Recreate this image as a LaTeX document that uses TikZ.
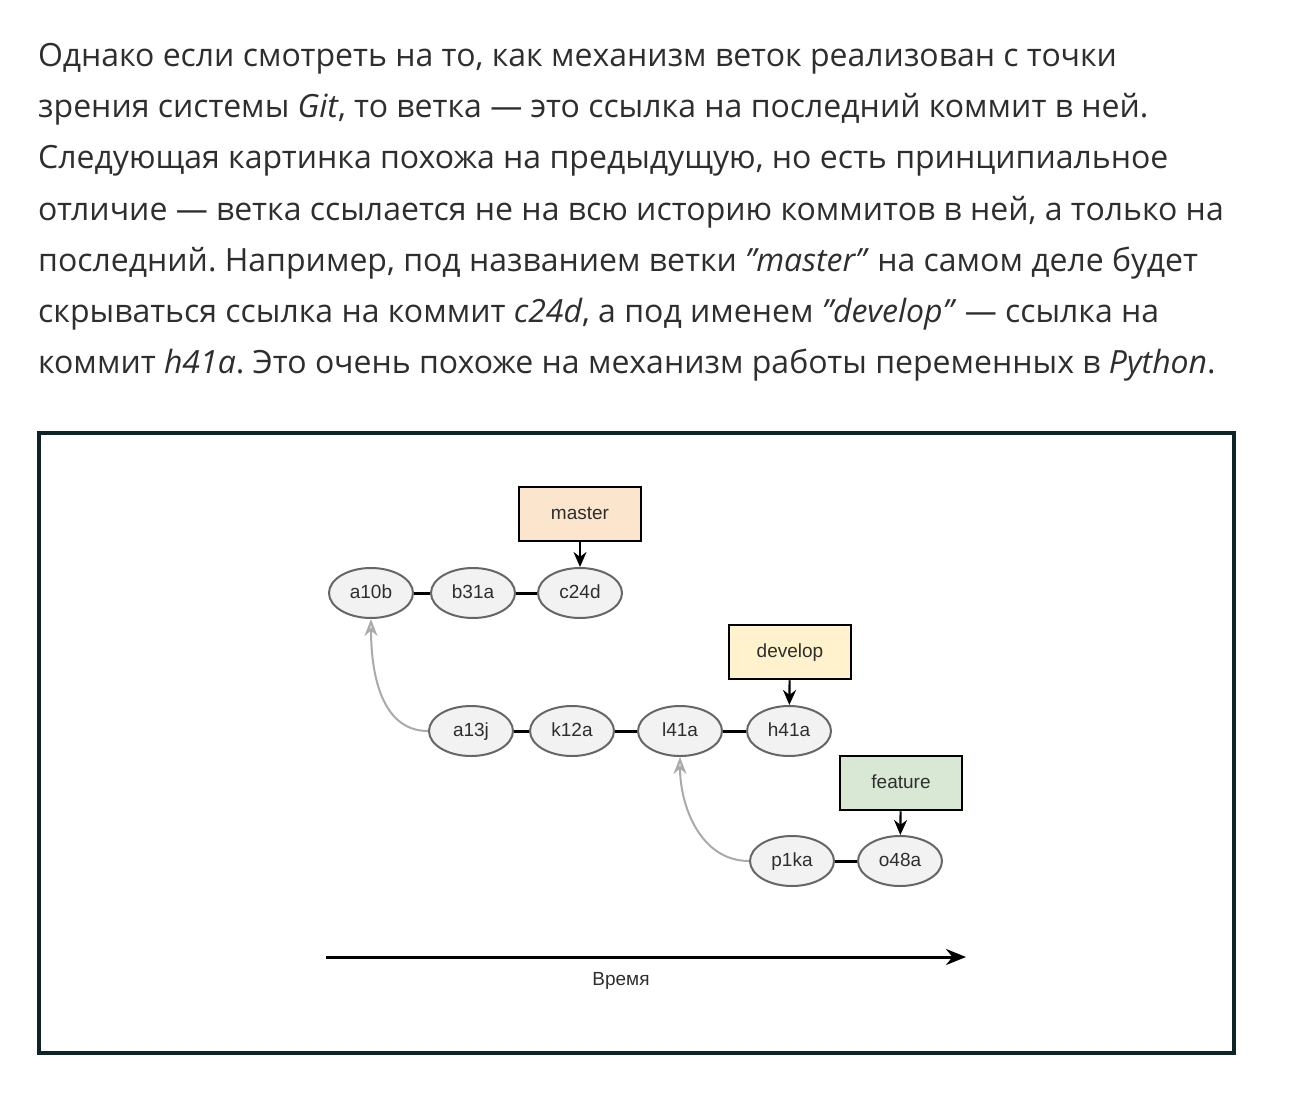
\documentclass[tikz,border=0pt]{standalone}
\usepackage{fontspec}
\setmainfont{Open Sans}
\newfontfamily\diafont{Liberation Sans}
\usepackage{tikz}
\usetikzlibrary{arrows.meta}
\usetikzlibrary{shapes.geometric}
\definecolor{textgray}{HTML}{2E2E2E}
\definecolor{framecol}{HTML}{0F2426}
\definecolor{commitline}{HTML}{666666}
\definecolor{commitfill}{HTML}{F2F2F2}
\definecolor{parentcol}{HTML}{AAAAAA}
\definecolor{masterfill}{HTML}{FCE5CD}
\definecolor{developfill}{HTML}{FFF2CC}
\definecolor{featurefill}{HTML}{D9E8D5}
\newcommand{\q}{\char34\relax}
\frenchspacing

\begin{document}
\begin{tikzpicture}[x=1pt,y=-1pt,
	line/.style={anchor=base west,inner sep=0pt,text=textgray,font=\fontsize{32}{36}\selectfont},
	commit/.style={ellipse,draw=commitline,fill=commitfill,line width=2pt,minimum width=84pt,minimum height=50pt,inner sep=0pt,text height=14pt,text depth=4pt,text=textgray,font=\diafont\fontsize{19}{21}\selectfont},
	branch/.style={rectangle,draw=black,line width=2.5pt,minimum width=122pt,minimum height=54pt,text height=14pt,text depth=4pt,text=textgray,font=\diafont\fontsize{19}{21}\selectfont},
	link/.style={line width=3pt},
	ptr/.style={-{Stealth[length=15pt,width=13pt]},line width=2.2pt},
	parent/.style={-{Stealth[length=17pt,width=13pt,fill=parentcol!40]},draw=parentcol,line width=2pt}]
	\useasboundingbox (0,0) rectangle (1292,1102);
	% paragraph
	\node[line] (l1) at (38,67) {Однако если смотреть на то, как механизм веток реализован с точки};
	\node[line] (l2) at (38,118) {зрения системы \textit{Git}, то ветка — это ссылка на последний коммит в ней.};
	\node[line] (l3) at (38,169) {Следующая картинка похожа на предыдущую, но есть принципиальное};
	\node[line] (l4) at (38,220) {отличие — ветка ссылается не на всю историю коммитов в ней, а только на};
	\node[line] (l5) at (38,271) {последний. Например, под названием ветки \textit{\q master\q} на самом деле будет};
	\node[line] (l6) at (38,322) {скрываться ссылка на коммит \textit{c24d}, а под именем \textit{\q develop\q} — ссылка на};
	\node[line] (l7) at (38,373) {коммит \textit{h41a}. Это очень похоже на механизм работы переменных в \textit{Python}.};
	% frame
	\draw[framecol,line width=4pt] (39,433) rectangle (1234,1053);
	% commits
	\node[commit] (a10b) at (371,593) {a10b};
	\node[commit] (b31a) at (473,593) {b31a};
	\node[commit] (c24d) at (580,593) {c24d};
	\node[commit] (a13j) at (471,731) {a13j};
	\node[commit] (k12a) at (572,731) {k12a};
	\node[commit] (l41a) at (680,731) {l41a};
	\node[commit] (h41a) at (789,731) {h41a};
	\node[commit] (p1ka) at (792,861) {p1ka};
	\node[commit] (o48a) at (900,861) {o48a};
	% branches
	\node[branch,fill=masterfill] (master) at (580,514) {master};
	\node[branch,fill=developfill] (develop) at (790,652) {develop};
	\node[branch,fill=featurefill] (feature) at (901,783) {feature};
	\draw[link] (a10b) -- (b31a);
	\draw[link] (b31a) -- (c24d);
	\draw[link] (a13j) -- (k12a);
	\draw[link] (k12a) -- (l41a);
	\draw[link] (l41a) -- (h41a);
	\draw[link] (p1ka) -- (o48a);
	\draw[ptr] (master) -- (c24d);
	\draw[ptr] (develop) -- (h41a);
	\draw[ptr] (feature) -- (o48a);
	\draw[parent] (a13j.west) to[out=180,in=-90] (a10b.south);
	\draw[parent] (p1ka.west) to[out=180,in=-90] (l41a.south);
	% time axis
	\coordinate (t0) at (326,957);
	\coordinate (t1) at (966,957);
	\draw[-{Stealth[length=20pt,width=16pt]},line width=3pt] (t0) -- (t1);
	\node[text=textgray,font=\diafont\fontsize{19}{21}\selectfont] (time) at (621,981) {Время};
\end{tikzpicture}
\end{document}
